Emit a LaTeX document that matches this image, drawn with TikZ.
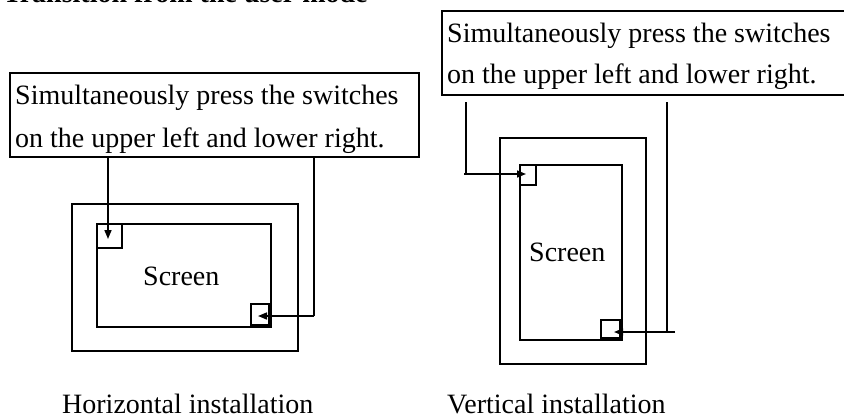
\documentclass[tikz,border=0pt]{standalone}
\usepackage{fontspec}
\setmainfont{Liberation Serif}
\usetikzlibrary{arrows.meta}
\begin{document}
\begin{tikzpicture}[x=1pt,y=-1pt,
  ln/.style={line width=1.6pt},
  arr/.style={line width=1.6pt,-{Triangle[length=9pt,width=7pt]}},
  tbox/.style={draw,line width=1.6pt,inner sep=0pt,minimum width=409pt,minimum height=84pt,anchor=north west},
  rbox/.style={draw,line width=1.6pt,inner sep=0pt,anchor=north west},
  txt/.style={inner sep=0pt,anchor=base west,font=\fontsize{28}{34}\selectfont},
  captxt/.style={inner sep=0pt,anchor=base west,font=\fontsize{28}{34}\selectfont}]
\useasboundingbox (0,0) rectangle (844,418);
\fill[white] (0,0) rectangle (844,418);
% heading (cut off by the top edge)
\node[inner sep=0pt,anchor=base west,font=\fontsize{28}{34}\selectfont\bfseries] (head) at (3,2) {Transition from the user mode};
% ---------- horizontal installation ----------
\node[tbox] (boxL) at (9,72) {};
\node[txt] (l1) at (15,104) {Simultaneously press the switches};
\node[txt] (l2) at (15,147) {on the upper left and lower right.};
\node[rbox,minimum width=226pt,minimum height=147pt] (outerH) at (71,203) {};
\node[rbox,minimum width=174pt,minimum height=103pt] (innerH) at (96,223) {};
\node[rbox,minimum width=25pt,minimum height=24pt] (swHa) at (96,223) {};
\node[rbox,minimum width=18pt,minimum height=21pt,anchor=south east] (swHb) at (270,326) {};
\node[txt] (scrH) at (143,285) {Screen};
\coordinate (hA0) at (108,156);
\coordinate (hA1) at (108,239);
\coordinate (hB0) at (314,158);
\coordinate (hB1) at (314,316);
\coordinate (hB2) at (258,316);
\draw[arr] (hA0) -- (hA1);
\draw[ln] (hB0) -- (hB1);
\draw[arr] (hB1) -- (hB2);
\node[captxt] (capH) at (62,413) {Horizontal installation};
% ---------- vertical installation ----------
\node[tbox] (boxV) at (441,10) {};
\node[txt] (v1) at (447,42) {Simultaneously press the switches};
\node[txt] (v2) at (447,83) {on the upper left and lower right.};
\node[rbox,minimum width=146pt,minimum height=226pt] (outerV) at (499,137) {};
\node[rbox,minimum width=102pt,minimum height=175pt] (innerV) at (519,164) {};
\node[rbox,minimum width=16pt,minimum height=20pt] (swVa) at (519,164) {};
\node[rbox,minimum width=19pt,minimum height=18pt,anchor=south east] (swVb) at (621,339) {};
\node[txt] (scrV) at (529,261) {Screen};
\coordinate (vA0) at (466,102);
\coordinate (vA1) at (466,174);
\coordinate (vA2) at (464,174);
\coordinate (vA3) at (526,174);
\coordinate (vB0) at (667,102);
\coordinate (vB1) at (667,332);
\coordinate (vB2) at (675,332);
\coordinate (vB3) at (614,332);
\draw[ln] (vA0) -- (vA1);
\draw[arr] (vA2) -- (vA3);
\draw[ln] (vB0) -- (vB1);
\draw[arr] (vB2) -- (vB3);
\node[captxt] (capV) at (447,413) {Vertical installation};
\end{tikzpicture}
\end{document}
